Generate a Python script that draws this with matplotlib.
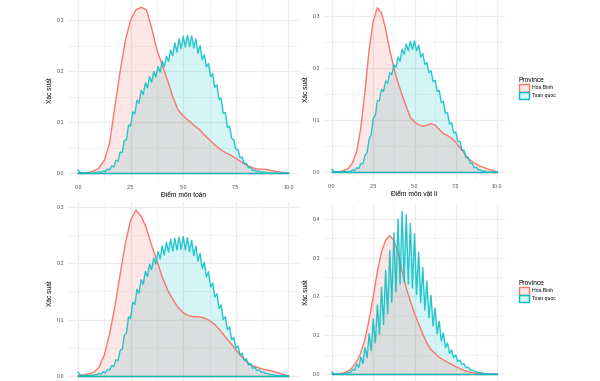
import numpy as np
import matplotlib
matplotlib.use('Agg')
import matplotlib.pyplot as plt
from matplotlib.patches import Patch
from matplotlib.colors import to_rgba
from matplotlib.ticker import FormatStrFormatter

plt.rcParams['font.family'] = ['Liberation Sans', 'DejaVu Sans']

RED = '#F8766D'
TEAL = '#00BFC4'
groups = ['Hoa Binh', 'Toan quoc']

# Hoa Binh densities, grid step 0.25 (0 .. 10)
toan_hb_1 = [0.000, 0.000, 0.001, 0.004, 0.010, 0.025, 0.058, 0.130, 0.199, 0.260,
             0.300, 0.320, 0.325, 0.320, 0.284, 0.241, 0.212, 0.182, 0.150, 0.124,
             0.112, 0.103, 0.094, 0.086, 0.075, 0.065, 0.055, 0.047, 0.040, 0.035,
             0.029, 0.022, 0.016, 0.011, 0.008, 0.0075, 0.0065, 0.0045, 0.0025, 0.001,
             0.000]
ly_hb_1 = [0.000, 0.000, 0.001, 0.003, 0.007, 0.018, 0.040, 0.085, 0.155, 0.235,
           0.290, 0.316, 0.306, 0.275, 0.235, 0.200, 0.172, 0.148, 0.126, 0.105,
           0.096, 0.091, 0.088, 0.090, 0.093, 0.090, 0.082, 0.074, 0.070, 0.065,
           0.057, 0.047, 0.037, 0.026, 0.020, 0.015, 0.011, 0.008, 0.005, 0.003,
           0.000]
toan_hb_2 = [0.000, 0.001, 0.003, 0.006, 0.015, 0.037, 0.074, 0.123, 0.180, 0.236,
             0.277, 0.295, 0.284, 0.263, 0.232, 0.205, 0.176, 0.153, 0.136, 0.122,
             0.112, 0.107, 0.105, 0.105, 0.103, 0.098, 0.091, 0.081, 0.069, 0.058,
             0.046, 0.035, 0.025, 0.018, 0.015, 0.012, 0.010, 0.008, 0.005, 0.002,
             0.000]
ly_hb_2 = [0.000, 0.000, 0.001, 0.003, 0.008, 0.017, 0.032, 0.055, 0.090, 0.140,
           0.200, 0.265, 0.315, 0.345, 0.357, 0.345, 0.312, 0.265, 0.222, 0.188,
           0.157, 0.130, 0.103, 0.080, 0.063, 0.053, 0.043, 0.036, 0.030, 0.025,
           0.019, 0.014, 0.009, 0.006, 0.003, 0.002, 0.001, 0.000, 0.000, 0.000,
           0.000]

# Toan quoc densities, math grid step 0.1
toan_tq_1 = [0.006, 0.001, 0.001, 0.000, 0.000, 0.000, 0.000, 0.000, 0.001, 0.001,
             0.002, 0.002, 0.004, 0.003, 0.008, 0.006, 0.014, 0.012, 0.025, 0.024,
             0.041, 0.040, 0.064, 0.065, 0.094, 0.092, 0.120, 0.116, 0.143, 0.137,
             0.162, 0.154, 0.177, 0.167, 0.189, 0.178, 0.199, 0.188, 0.209, 0.198,
             0.219, 0.208, 0.229, 0.219, 0.241, 0.230, 0.255, 0.237, 0.263, 0.244,
             0.268, 0.247, 0.270, 0.248, 0.269, 0.245, 0.263, 0.235, 0.250, 0.222,
             0.232, 0.208, 0.215, 0.189, 0.195, 0.168, 0.173, 0.144, 0.147, 0.117,
             0.119, 0.089, 0.092, 0.068, 0.065, 0.047, 0.046, 0.030, 0.031, 0.018,
             0.019, 0.010, 0.011, 0.005, 0.006, 0.003, 0.004, 0.002, 0.002, 0.001,
             0.001, 0.000, 0.000, 0.000, 0.000, 0.000, 0.000, 0.000, 0.000, 0.000,
             0.000]
toan_tq_2 = [0.006, 0.001, 0.001, 0.000, 0.000, 0.000, 0.001, 0.001, 0.001, 0.002,
             0.004, 0.003, 0.007, 0.005, 0.011, 0.010, 0.018, 0.016, 0.028, 0.027,
             0.045, 0.047, 0.072, 0.076, 0.105, 0.102, 0.131, 0.127, 0.154, 0.147,
             0.171, 0.163, 0.186, 0.177, 0.199, 0.189, 0.210, 0.199, 0.221, 0.208,
             0.231, 0.215, 0.238, 0.220, 0.243, 0.222, 0.245, 0.224, 0.247, 0.225,
             0.248, 0.224, 0.246, 0.221, 0.241, 0.214, 0.231, 0.204, 0.218, 0.191,
             0.202, 0.176, 0.185, 0.158, 0.165, 0.140, 0.146, 0.120, 0.126, 0.100,
             0.105, 0.082, 0.087, 0.064, 0.068, 0.049, 0.053, 0.037, 0.040, 0.027,
             0.030, 0.019, 0.022, 0.013, 0.015, 0.009, 0.011, 0.006, 0.007, 0.004,
             0.004, 0.002, 0.002, 0.001, 0.001, 0.000, 0.000, 0.000, 0.000, 0.000,
             0.000]

# Toan quoc densities, physics grid step 0.125
ly_tq_1 = [0.005, 0.001, 0.001, 0.000, 0.000, 0.000, 0.001, 0.000,
           0.001, 0.001, 0.004, 0.003, 0.008, 0.007, 0.016, 0.016,
           0.032, 0.037, 0.063, 0.072, 0.103, 0.109, 0.137, 0.137,
           0.159, 0.155, 0.175, 0.171, 0.191, 0.187, 0.206, 0.201,
           0.221, 0.213, 0.236, 0.226, 0.246, 0.233, 0.251, 0.236,
           0.252, 0.233, 0.244, 0.221, 0.228, 0.207, 0.210, 0.191,
           0.195, 0.174, 0.176, 0.155, 0.157, 0.134, 0.136, 0.113,
           0.114, 0.092, 0.095, 0.075, 0.077, 0.059, 0.059, 0.042,
           0.042, 0.028, 0.028, 0.017, 0.016, 0.008, 0.009, 0.004,
           0.004, 0.001, 0.002, 0.000, 0.000, 0.000, 0.000, 0.000,
           0.000]
ly_tq_2 = [0.005, 0.000, 0.000, 0.000, 0.000, 0.000, 0.001, 0.001,
           0.004, 0.004, 0.012, 0.009, 0.026, 0.017, 0.044, 0.027,
           0.068, 0.042, 0.104, 0.060, 0.142, 0.080, 0.178, 0.102,
           0.224, 0.128, 0.268, 0.155, 0.318, 0.185, 0.364, 0.212,
           0.400, 0.232, 0.420, 0.238, 0.411, 0.232, 0.389, 0.222,
           0.362, 0.205, 0.315, 0.185, 0.275, 0.165, 0.240, 0.145,
           0.203, 0.124, 0.170, 0.104, 0.136, 0.085, 0.106, 0.068,
           0.080, 0.053, 0.062, 0.042, 0.049, 0.032, 0.036, 0.024,
           0.026, 0.017, 0.017, 0.011, 0.010, 0.007, 0.006, 0.004,
           0.003, 0.002, 0.001, 0.000, 0.000, 0.000, 0.000, 0.000,
           0.000]

W, H = 600, 381
fig = plt.figure(figsize=(6, 3.81), dpi=100)


def px_axes(left, top, right, bottom):
    return fig.add_axes([left / W, 1 - bottom / H, (right - left) / W, (bottom - top) / H])


def panel(ax, hb, tq, ylim, yticks, xlabel=None):
    x_hb = np.linspace(0, 10, len(hb))
    x_tq = np.linspace(0, 10, len(tq))
    ax.fill_between(x_tq, tq, color=TEAL, alpha=0.17, lw=0)
    ax.fill_between(x_hb, hb, color=RED, alpha=0.17, lw=0)
    ax.plot(x_hb, hb, color=RED, lw=1.0)
    ax.plot([x_hb[0], x_hb[-1]], [0, 0], color=RED, lw=1.0)
    ax.plot(x_tq, tq, color=TEAL, lw=1.0, alpha=0.85)
    ax.plot([x_tq[0], x_tq[-1]], [0, 0], color=TEAL, lw=1.0)
    ax.set_xticks([0, 2.5, 5, 7.5, 10])
    ax.set_xticks([1.25, 3.75, 6.25, 8.75], minor=True)
    ax.set_yticks(yticks)
    ax.set_yticks([t + 0.05 for t in yticks], minor=True)
    ax.set_xlim(-0.5, 10.5)
    ax.set_ylim(*ylim)
    ax.xaxis.set_major_formatter(FormatStrFormatter('%.1f'))
    ax.yaxis.set_major_formatter(FormatStrFormatter('%.1f'))
    ax.grid(which='major', color='#EBEBEB', lw=0.9)
    ax.grid(which='minor', color='#F3F3F3', lw=0.6)
    ax.set_axisbelow(True)
    for s in ax.spines.values():
        s.set_visible(False)
    ax.tick_params(which='both', length=0, labelsize=3.8, colors='#4D4D4D', pad=2.5)
    ax.set_ylabel('Xác suất', fontsize=4.8, labelpad=2)
    if xlabel:
        ax.set_xlabel(xlabel, fontsize=4.8, labelpad=1.5)
    else:
        # bottom row is cropped in the reference: x axis falls off the picture
        ax.tick_params(axis='x', labelbottom=False)


def legend(top_px):
    handles = [Patch(facecolor=to_rgba(RED, 0.17), edgecolor=RED, lw=1.0),
               Patch(facecolor=to_rgba(TEAL, 0.17), edgecolor=TEAL, lw=1.0)]
    fig.legend(handles, groups, title='Province', loc='upper left',
               bbox_to_anchor=(516 / W, 1 - top_px / H), bbox_transform=fig.transFigure,
               frameon=False, fontsize=3.7, title_fontsize=4.8, borderpad=0,
               handlelength=2.0, handleheight=2.0, handletextpad=0.6,
               labelspacing=0, alignment='left')


ax1 = px_axes(67.5, -0.4, 299, 181.2)
panel(ax1, toan_hb_1, toan_tq_1, (-0.016, 0.34), [0, 0.1, 0.2, 0.3], 'Điểm môn toán')

ax2 = px_axes(323.75, -2.2, 505.25, 180.3)
panel(ax2, ly_hb_1, ly_tq_1, (-0.016, 0.335), [0, 0.1, 0.2, 0.3], 'Điểm môn vật lí')
legend(74)

ax3 = px_axes(67.5, 201.7, 299, 384.1)
panel(ax3, toan_hb_2, toan_tq_2, (-0.015, 0.31), [0, 0.1, 0.2, 0.3])

ax4 = px_axes(323.75, 203.1, 505.25, 382.1)
panel(ax4, ly_hb_2, ly_tq_2, (-0.021, 0.441), [0, 0.1, 0.2, 0.3, 0.4])
legend(277)

fig.savefig('out.png', dpi=100)
